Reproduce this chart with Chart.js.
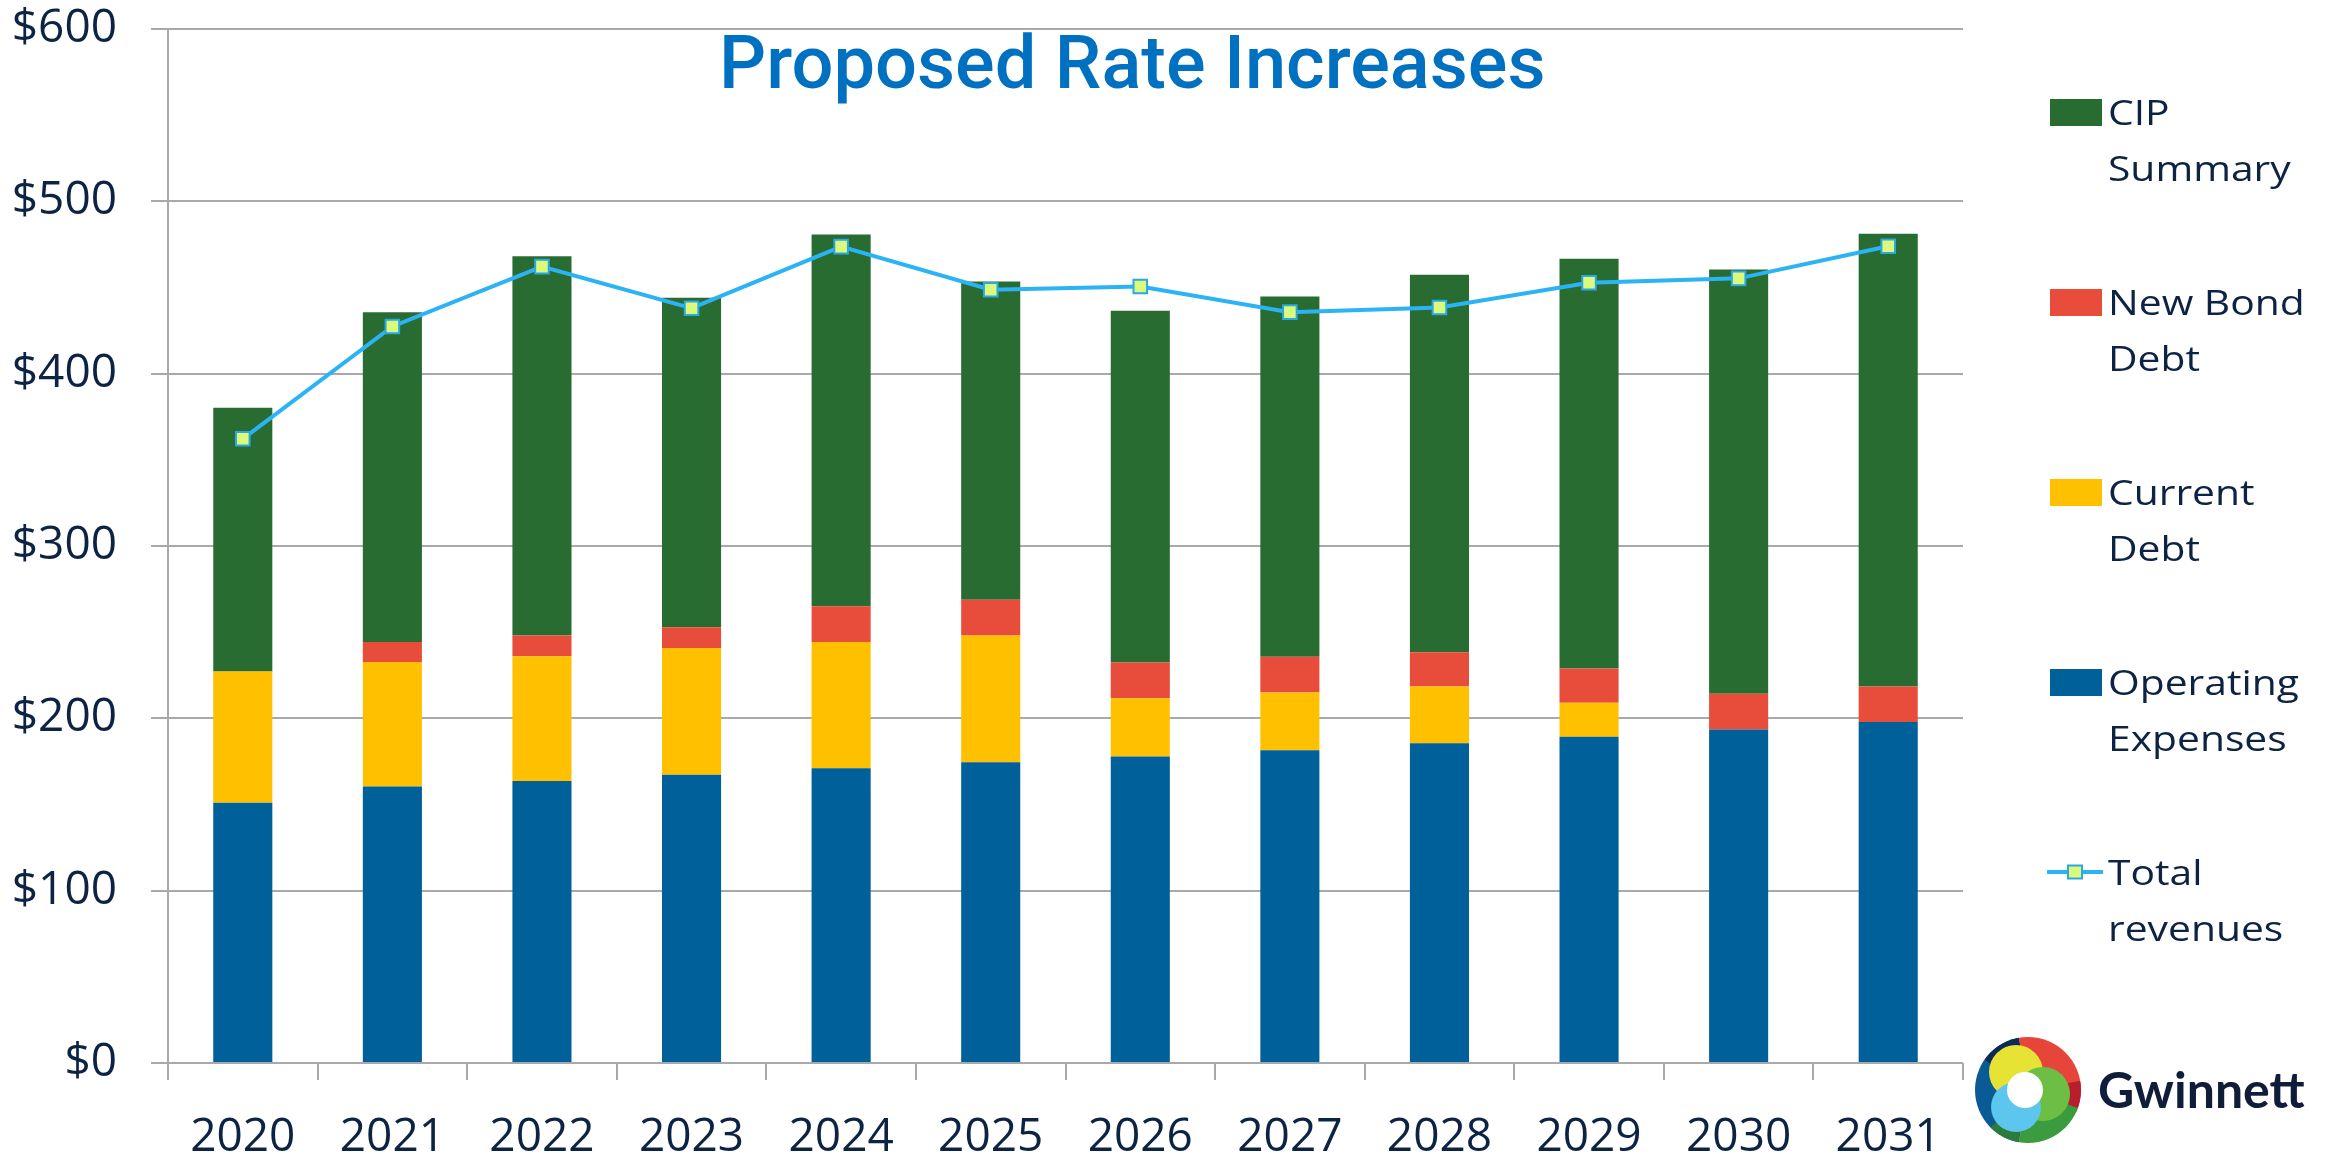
<!DOCTYPE html>
<html>
<head>
<meta charset="utf-8">
<script src="https://cdn.jsdelivr.net/npm/chart.js@4.4.1/dist/chart.umd.min.js"></script>
<style>
  html, body { margin: 0; padding: 0; background: #ffffff; }
  #wrap { width: 2341px; height: 1154px; position: relative; }
</style>
</head>
<body>
<div id="wrap"><canvas id="c" width="2341" height="1154"></canvas></div>
<script>
// ---- Data (millions of dollars) ----
const years = ['2020','2021','2022','2023','2024','2025','2026','2027','2028','2029','2030','2031'];
const operatingExpenses = [151, 160.5, 163.7, 167.2, 171, 174.5, 177.8, 181.5, 185.5, 189.3, 193.5, 197.8];
const currentDebt       = [76.2, 72.2, 72.3, 73.6, 73.3, 73.5, 33.8, 33.5, 33, 19.7, 0, 0];
const newBondDebt       = [0, 11.6, 12, 12.1, 20.8, 20.8, 20.8, 20.8, 19.9, 19.9, 20.7, 20.7];
const cipSummary        = [153, 191.4, 220.2, 191.2, 215.7, 184.7, 204.1, 209, 219, 237.8, 246.3, 262.7];
const totalRevenues     = [362.2, 427.4, 462.1, 438, 473.7, 448.7, 450.6, 435.7, 438.4, 452.8, 455.3, 473.9];
const yTicks = [0, 100, 200, 300, 400, 500, 600];

const titleText = 'Proposed Rate Increases';
const legendOrder = [
  { label: ['CIP', 'Summary'], ds: 3 },
  { label: ['New Bond', 'Debt'], ds: 2 },
  { label: ['Current', 'Debt'], ds: 1 },
  { label: ['Operating', 'Expenses'], ds: 0 },
  { label: ['Total', 'revenues'], ds: 4 }
];

const COLORS = {
  ops: '#00609A', cur: '#FFC000', bond: '#E84C3B', cip: '#286C32',
  line: '#2CB3F5', marker: '#DBF97A', markerBorder: '#2AA8E6',
  text: '#0D2344', grid: '#A9A9AD', title: '#0070C0'
};

const overlayPlugin = {
  id: 'overlay',
  afterDraw(chart) {
    const ctx = chart.ctx;
    // Title
    ctx.save();
    ctx.fillStyle = COLORS.title;
    ctx.font = '500 74px Roboto';
    ctx.textAlign = 'left';
    ctx.textBaseline = 'alphabetic';
    ctx.fillText(titleText, 719, 88);
    ctx.restore();

    // Legend
    const ds = chart.data.datasets;
    legendOrder.forEach((item, i) => {
      const top = 99 + 190 * i;
      const d = ds[item.ds];
      ctx.save();
      if (d.type === 'line') {
        const cy = top + 13;
        ctx.strokeStyle = d.borderColor;
        ctx.lineWidth = 4;
        ctx.beginPath(); ctx.moveTo(2047, cy); ctx.lineTo(2103, cy); ctx.stroke();
        ctx.fillStyle = d.pointBackgroundColor;
        ctx.strokeStyle = d.pointBorderColor;
        ctx.lineWidth = 2;
        ctx.fillRect(2068, cy - 6.5, 14, 13);
        ctx.strokeRect(2068, cy - 6.5, 14, 13);
      } else {
        ctx.fillStyle = d.backgroundColor;
        ctx.fillRect(2050, top, 52, 27);
      }
      ctx.fillStyle = COLORS.text;
      ctx.font = '34px "Open Sans"';
      ctx.textBaseline = 'alphabetic';
      item.label.forEach((line, j) => {
        ctx.save();
        ctx.translate(2108, top + 26 + j * 56);
        ctx.scale(1.2, 1);
        ctx.fillText(line, 0, 0);
        ctx.restore();
      });
      ctx.restore();
    });

    // Gwinnett logo
    const cx = 2028, cy = 1090, R = 53;
    ctx.save();
    ctx.beginPath(); ctx.arc(cx, cy, R, 0, Math.PI * 2); ctx.clip();
    const wedge = (a0, a1, col) => {
      ctx.beginPath(); ctx.moveTo(cx, cy);
      ctx.arc(cx, cy, R + 2, a0 * Math.PI / 180, a1 * Math.PI / 180);
      ctx.closePath(); ctx.fillStyle = col; ctx.fill();
    };
    wedge(100, 260, '#0A5A96');
    wedge(215, 260, '#0B2A55');
    wedge(260, 380, '#E8453A');
    wedge(-10, 25, '#B81E2B');
    wedge(20, 100, '#3A9B3F');
    wedge(100, 135, '#2B7C3A');
    const circ = (x, y, r, col) => { ctx.beginPath(); ctx.arc(x, y, r, 0, Math.PI * 2); ctx.fillStyle = col; ctx.fill(); };
    circ(cx - 12, cy - 18, 27, '#E6E335');
    circ(cx + 15, cy + 4, 27, '#6DBE45');
    circ(cx - 12, cy + 17, 25, '#5CC6EE');
    circ(cx - 3, cy, 18, '#FFFFFF');
    ctx.restore();
    ctx.save();
    ctx.fillStyle = '#0F1D3A';
    ctx.font = 'bold 50px Lato';
    ctx.textBaseline = 'alphabetic';
    ctx.fillText('Gwinnett', 2098, 1108);
    ctx.restore();
  }
};

const barCommon = { type: 'bar', order: 1, stack: 's', barPercentage: 0.395, categoryPercentage: 1.0, borderWidth: 0 };

new Chart(document.getElementById('c'), {
  data: {
    labels: years,
    datasets: [
      Object.assign({ label: 'Operating Expenses', data: operatingExpenses, backgroundColor: COLORS.ops }, barCommon),
      Object.assign({ label: 'Current Debt', data: currentDebt, backgroundColor: COLORS.cur }, barCommon),
      Object.assign({ label: 'New Bond Debt', data: newBondDebt, backgroundColor: COLORS.bond }, barCommon),
      Object.assign({ label: 'CIP Summary', data: cipSummary, backgroundColor: COLORS.cip }, barCommon),
      {
        type: 'line', label: 'Total revenues', data: totalRevenues, order: 0,
        borderColor: COLORS.line, borderWidth: 4, tension: 0, fill: false,
        pointStyle: 'rect', pointRadius: 9.6, pointBorderWidth: 2,
        pointBackgroundColor: COLORS.marker, pointBorderColor: COLORS.markerBorder
      }
    ]
  },
  options: {
    responsive: false,
    devicePixelRatio: 1,
    animation: false,
    layout: { padding: { left: 0, right: 378, top: 29, bottom: 0 } },
    plugins: { legend: { display: false }, tooltip: { enabled: false }, title: { display: false } },
    scales: {
      x: {
        stacked: true,
        offset: true,
        grid: { offset: true, drawOnChartArea: false, drawTicks: true, tickLength: 17, color: COLORS.grid, lineWidth: 2 },
        border: { display: false },
        ticks: { color: COLORS.text, font: { family: 'Open Sans', size: 46 }, padding: 30, maxRotation: 0, autoSkip: false },
        afterFit(scale) { scale.height = 91; scale.paddingLeft = 0; scale.paddingRight = 0; }
      },
      y: {
        stacked: true,
        min: 0, max: 600,
        afterBuildTicks(scale) { scale.ticks = yTicks.map(v => ({ value: v })); },
        grid: { color: COLORS.grid, lineWidth: 2, tickLength: 17, drawTicks: true },
        border: { display: true, color: COLORS.grid, width: 2 },
        ticks: { color: COLORS.text, font: { family: 'Open Sans', size: 46 }, padding: 34, callback: v => '$' + v },
        afterFit(scale) { scale.width = 168; scale.paddingTop = 0; scale.paddingBottom = 0; }
      }
    }
  },
  plugins: [overlayPlugin]
});
</script>
</body>
</html>
